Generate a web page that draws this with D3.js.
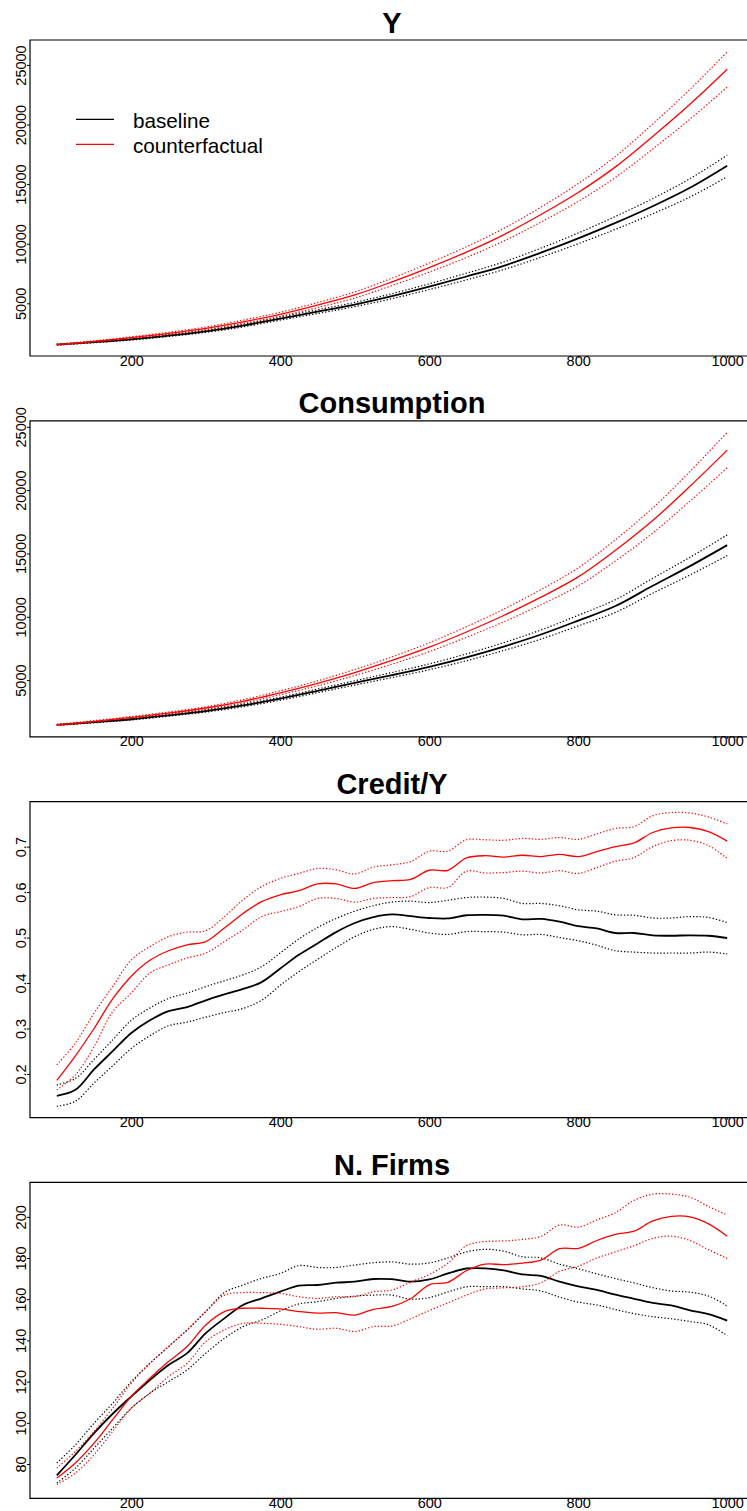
<!DOCTYPE html>
<html>
<head>
<meta charset="utf-8">
<script src="https://cdn.jsdelivr.net/npm/d3@7"></script>
<style>
  html, body { margin: 0; padding: 0; background: #fff; }
  svg { display: block; }
  text { font-family: "Liberation Sans", Arial, Helvetica, sans-serif; }
</style>
</head>
<body>
<svg id="chart" width="747" height="1511"></svg>
<script>
// ---- time grids ----
const tCoarse = [100,150,200,250,300,350,400,450,500,550,600,650,700,750,800,850,900,950,1000];
const tFine = [100,125,150,175,200,225,250,275,300,325,350,375,400,425,450,475,500,525,
               550,575,600,625,650,675,700,725,750,775,800,825,850,875,900,925,950,975,1000];

// ---- Y ----
const yBaseMid = [1530,1740,1975,2290,2650,3130,3720,4300,4900,5600,6400,7250,8150,9250,10450,11750,13150,14700,16550];
const yBaseHi  = [1570,1790,2035,2365,2740,3240,3850,4455,5080,5810,6640,7530,8470,9630,10900,12290,13790,15460,17430];
const yBaseLo  = [1490,1690,1915,2215,2560,3020,3590,4145,4720,5390,6160,6970,7830,8870,10000,11210,12510,13920,15620];
const yCfMid   = [1530,1800,2120,2480,2900,3450,4080,4850,5700,6800,8000,9300,10750,12450,14300,16450,19000,21700,24640];
const yCfHi    = [1570,1855,2190,2570,3010,3590,4250,5060,5960,7110,8380,9750,11280,13080,15050,17330,20050,22950,26100];
const yCfLo    = [1490,1745,2050,2390,2790,3310,3910,4640,5440,6490,7620,8850,10220,11820,13550,15570,17950,20450,23150];

// ---- Consumption ----
const cBaseMid = [1460,1680,1910,2220,2560,3000,3530,4150,4780,5400,6050,6800,7650,8600,9700,10850,12450,14000,15660];
const cBaseHi  = [1500,1730,1970,2290,2645,3100,3650,4295,4950,5600,6280,7070,7960,8960,10120,11350,13040,14700,16460];
const cBaseLo  = [1420,1630,1850,2150,2475,2900,3410,4005,4610,5200,5820,6530,7340,8240,9280,10350,11860,13300,14830];
const cCfMid   = [1460,1750,2060,2400,2800,3330,4000,4750,5600,6550,7600,8800,10100,11550,13150,15250,17600,20300,23160];
const cCfHi    = [1500,1800,2125,2480,2900,3455,4155,4945,5840,6840,7950,9220,10600,12150,13860,16090,18590,21470,24560];
const cCfLo    = [1420,1700,1995,2320,2700,3205,3845,4555,5360,6260,7250,8380,9600,10950,12440,14410,16610,19130,21760];

// ---- Credit/Y ----
const kBaseMid = [0.152,0.165,0.210,0.250,0.290,0.318,0.338,0.347,0.362,0.375,0.387,0.402,0.432,0.462,0.487,0.512,0.532,0.545,
                  0.551,0.547,0.543,0.542,0.549,0.550,0.548,0.540,0.541,0.535,0.525,0.520,0.510,0.510,0.505,0.504,0.505,0.504,0.499];
const kBaseHi  = [0.176,0.190,0.232,0.275,0.318,0.345,0.366,0.378,0.392,0.405,0.418,0.436,0.466,0.497,0.522,0.542,0.558,0.570,
                  0.578,0.580,0.577,0.582,0.588,0.589,0.586,0.575,0.575,0.570,0.561,0.558,0.550,0.549,0.543,0.543,0.546,0.544,0.533];
const kBaseLo  = [0.129,0.140,0.180,0.218,0.256,0.284,0.306,0.314,0.325,0.335,0.344,0.362,0.395,0.425,0.452,0.478,0.502,0.518,
                  0.524,0.518,0.510,0.507,0.513,0.513,0.512,0.506,0.507,0.500,0.493,0.483,0.471,0.468,0.466,0.466,0.466,0.468,0.464];
const kCfMid   = [0.186,0.240,0.300,0.365,0.415,0.450,0.471,0.484,0.491,0.521,0.553,0.579,0.594,0.603,0.618,0.618,0.608,0.621,
                  0.625,0.628,0.648,0.648,0.675,0.680,0.677,0.681,0.678,0.683,0.678,0.689,0.700,0.708,0.731,0.741,0.742,0.733,0.712];
const kCfHi    = [0.220,0.268,0.334,0.392,0.451,0.480,0.502,0.512,0.515,0.546,0.583,0.612,0.630,0.641,0.652,0.649,0.640,0.655,
                  0.660,0.667,0.690,0.690,0.715,0.715,0.714,0.718,0.716,0.720,0.716,0.728,0.740,0.744,0.768,0.775,0.774,0.765,0.750];
const kCfLo    = [0.165,0.198,0.260,0.337,0.378,0.422,0.440,0.455,0.466,0.491,0.517,0.546,0.557,0.568,0.586,0.586,0.578,0.586,
                  0.588,0.590,0.610,0.610,0.646,0.642,0.643,0.646,0.642,0.647,0.641,0.654,0.668,0.676,0.700,0.713,0.714,0.702,0.674];

// ---- N. Firms ----
const fBaseMid = [74.5,84.5,95.0,104.4,112.8,120.8,128.1,133.8,143.5,150.7,157.2,160.4,163.7,166.6,166.9,168.0,168.5,169.8,
                  169.7,168.5,169.6,172.5,174.9,175.0,174.0,172.0,171.3,168.5,166.2,164.5,162.2,160.2,158.2,157.0,154.6,152.8,149.6];
const fBaseHi  = [80.5,89.3,99.8,109.5,120.0,128.9,137.0,145.1,154.0,163.2,166.9,170.1,172.5,176.3,175.4,175.4,176.6,177.7,
                  178.1,177.0,177.6,180.0,183.0,184.2,183.3,180.6,180.1,177.0,174.8,172.3,170.0,167.9,165.6,164.0,163.4,161.5,156.7];
const fBaseLo  = [70.8,78.0,87.7,97.4,107.1,114.4,120.0,125.7,133.8,141.0,146.7,149.9,154.3,157.7,158.8,160.4,161.5,162.0,
                  162.0,160.0,160.8,163.5,166.0,166.1,166.1,165.0,164.0,161.0,158.6,157.2,155.0,153.0,151.5,150.5,149.2,147.6,142.3];
const fCfMid   = [73.2,80.5,90.1,101.5,112.8,121.6,129.7,137.0,147.5,154.0,155.6,155.6,155.3,154.0,153.2,153.5,152.3,155.1,
                  156.5,160.2,167.0,168.2,173.8,177.0,176.8,177.5,179.0,184.5,184.7,188.5,191.5,193.0,198.0,200.2,200.0,196.6,190.6];
const fCfHi    = [78.0,86.1,95.8,107.1,119.2,128.9,137.0,145.1,154.0,162.0,163.2,163.2,162.8,161.2,160.4,161.2,161.2,163.6,
                  164.5,168.3,172.0,177.5,186.0,188.0,188.3,189.0,190.5,196.0,195.0,198.5,202.0,208.0,211.0,211.0,209.5,205.0,200.8];
const fCfLo    = [70.0,75.6,84.5,95.8,107.1,114.4,122.5,128.9,139.4,145.1,148.3,148.3,147.8,146.7,145.4,145.9,144.3,146.7,
                  147.0,150.5,154.5,158.2,162.0,165.0,165.5,166.0,168.0,173.5,176.0,180.0,183.0,186.0,189.5,190.6,188.5,184.0,179.8];

// ---- tick labels ----
const xTicks = [200,400,600,800,1000];
const yTicksLevel = [5000,10000,15000,20000,25000];
const yTicksCredit = [0.2,0.3,0.4,0.5,0.6,0.7];
const yTicksFirms = [80,100,120,140,160,180,200];

const legendLabels = ["baseline","counterfactual"];
const seriesColors = ["#000000","#ff0000"];

// ---- panel definitions ----
const panels = [
  { title: "Y", t: tCoarse, yDomain: [579, 27097], ticks: yTicksLevel,
    base: [yBaseMid, yBaseHi, yBaseLo], cf: [yCfMid, yCfHi, yCfLo], legend: true },
  { title: "Consumption", t: tCoarse, yDomain: [525, 25474], ticks: yTicksLevel,
    base: [cBaseMid, cBaseHi, cBaseLo], cf: [cCfMid, cCfHi, cCfLo] },
  { title: "Credit/Y", t: tFine, yDomain: [0.104, 0.799], ticks: yTicksCredit,
    base: [kBaseMid, kBaseHi, kBaseLo], cf: [kCfMid, kCfHi, kCfLo] },
  { title: "N. Firms", t: tFine, yDomain: [63.3, 216.7], ticks: yTicksFirms,
    base: [fBaseMid, fBaseHi, fBaseLo], cf: [fCfMid, fCfHi, fCfLo] }
];

const svg = d3.select("#chart");
const boxLeft = 30, boxRight = 754, boxH = 316, firstTop = 40, stride = 380.8;
const x = d3.scaleLinear().domain([64, 1036]).range([boxLeft, boxRight]);

panels.forEach((p, i) => {
  const top = firstTop + i * stride;
  const bottom = top + boxH;
  const y = d3.scaleLinear().domain(p.yDomain).range([bottom, top]);
  const g = svg.append("g");

  // title
  g.append("text")
    .attr("x", (boxLeft + boxRight) / 2)
    .attr("y", top - 7.5)
    .attr("text-anchor", "middle")
    .attr("font-size", 29)
    .attr("font-weight", "bold")
    .attr("fill", "#000")
    .text(p.title);

  // series
  const line = (vals) => d3.line()
    .x((d, k) => x(p.t[k]))
    .y(d => y(d))
    .curve(d3.curveCatmullRom.alpha(0.5))(vals);

  [[p.base, seriesColors[0], 1.8], [p.cf, seriesColors[1], 1.3]].forEach(([set, col, w]) => {
    [set[1], set[2]].forEach(band => {
      g.append("path")
        .attr("d", line(band))
        .attr("fill", "none")
        .attr("stroke", col)
        .attr("stroke-width", 1.2)
        .attr("stroke-dasharray", "1.3,2");
    });
    g.append("path")
      .attr("d", line(set[0]))
      .attr("fill", "none")
      .attr("stroke", col)
      .attr("stroke-width", w)
      .attr("stroke-linejoin", "round");
  });

  // box (left, top, bottom; right side lies beyond the page)
  g.append("path")
    .attr("d", `M${boxRight},${top}H${boxLeft}V${bottom}H${boxRight}`)
    .attr("fill", "none")
    .attr("stroke", "#000")
    .attr("stroke-width", 1.2);

  // x axis
  const xa = g.append("g")
    .attr("transform", `translate(0,${bottom})`)
    .call(d3.axisBottom(x).tickValues(xTicks).tickSize(2).tickPadding(0).tickFormat(d3.format("d")));
  xa.select(".domain").remove();
  xa.selectAll("text").attr("font-size", 14.5).attr("fill", "#000").attr("y", -0.8);
  xa.selectAll("line").attr("stroke", "#000");

  // y axis with labels parallel to the axis
  const ya = g.append("g")
    .attr("transform", `translate(${boxLeft},0)`)
    .call(d3.axisLeft(y).tickValues(p.ticks).tickSize(3).tickFormat(d => String(d)));
  ya.select(".domain").remove();
  ya.selectAll("line").attr("stroke", "#000");
  ya.selectAll("text")
    .attr("font-size", 14.5)
    .attr("fill", "#000")
    .attr("x", null).attr("dy", null)
    .attr("text-anchor", "middle")
    .attr("transform", "translate(-4.5,0) rotate(-90)");

  // legend
  if (p.legend) {
    const lg = g.append("g");
    legendLabels.forEach((lab, k) => {
      const ly = 119.3 + k * 25;
      lg.append("line")
        .attr("x1", 76).attr("x2", 114)
        .attr("y1", ly).attr("y2", ly)
        .attr("stroke", seriesColors[k])
        .attr("stroke-width", 1.2);
      lg.append("text")
        .attr("x", 133)
        .attr("y", ly + 9)
        .attr("font-size", 20.7)
        .attr("fill", "#000")
        .text(lab);
    });
  }
});
</script>
</body>
</html>
